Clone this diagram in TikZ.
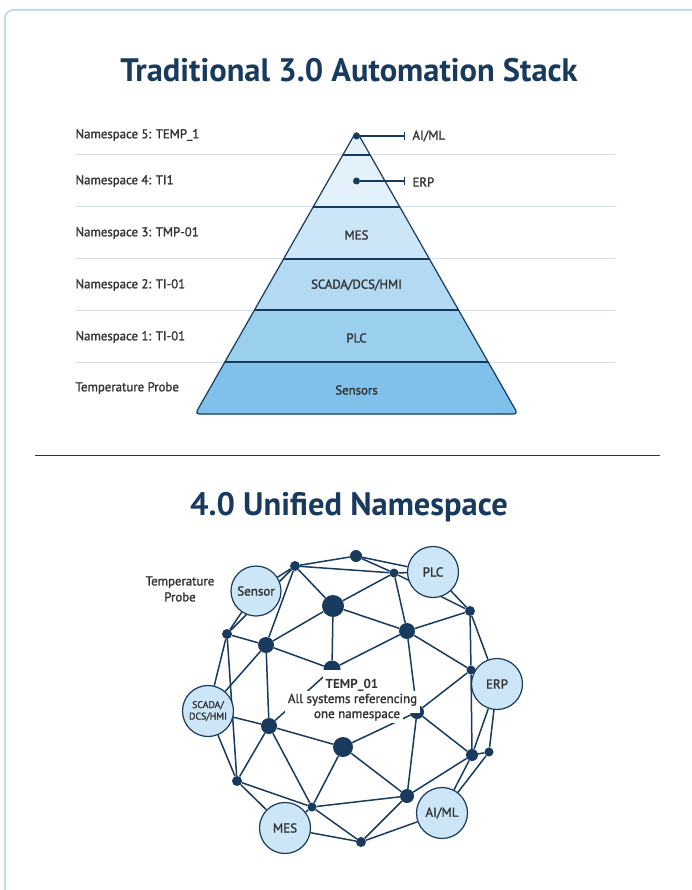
\documentclass[tikz,border=0pt]{standalone}
\usepackage{fontspec}
\setmainfont{PT Sans}
\newfontfamily\med{PT Sans}[FakeBold=1.6]
\usetikzlibrary{arrows.meta,backgrounds}
\definecolor{navy}{HTML}{173A5E}
\definecolor{ink}{HTML}{333333}
\definecolor{card}{HTML}{C6DCEE}
\definecolor{rule}{HTML}{D3DEE8}
\definecolor{la}{HTML}{E3F1FB}
\definecolor{lb}{HTML}{CCE6F7}
\definecolor{lc}{HTML}{B3DAF2}
\definecolor{ld}{HTML}{9BCFEE}
\definecolor{le}{HTML}{7FC1EA}
\tikzset{
	ttl/.style={text=navy,font=\bfseries\fontsize{32.5}{38}\selectfont},
	ns/.style={anchor=west,text=ink,font=\med\fontsize{12.8}{15}\selectfont},
	lay/.style={text=ink,font=\med\fontsize{12.8}{15}\selectfont},
	sys/.style={circle,draw=navy,line width=1.2pt,fill=lb,minimum size=51pt,inner sep=0pt,text=ink,font=\med\fontsize{13}{15}\selectfont},
	hub/.style={circle,fill=navy,inner sep=0pt,minimum size=#1},
	edge/.style={navy,line width=1.5pt},
	txt/.style={anchor=base,fill=white,inner sep=2.5pt,text=ink,font=\med\fontsize{13}{15}\selectfont},
}

\begin{document}
\begin{tikzpicture}[x=1pt,y=-1pt]
	\useasboundingbox (0,0) rectangle (692,890);
	\draw [card, line width=2pt, rounded corners=8pt] (700,10) -- (5,10) -- (5,900);

	% stack
	\node [ttl] (title1) at (349,70) {Traditional 3.0 Automation Stack};

	\foreach \y in {155,207,259,310,362}
		\draw [rule, line width=1pt] (75,\y) -- (615,\y);

	\coordinate (top) at (356.5,131);

	\fill [la] (top) -- (399.8,207) -- (313.2,207) -- cycle;
	\fill [lb] (313.2,207) -- (399.8,207) -- (429.5,259) -- (283.5,259);
	\fill [lc] (283.5,259) -- (429.5,259) -- (458.5,310) -- (254.5,310);
	\fill [ld] (254.5,310) -- (458.5,310) -- (488.2,362) -- (224.8,362);
	\fill [le, rounded corners=4pt] (224.8,362) -- (488.2,362) -- (517.8,414) -- (195.2,414) -- (224.8,362);

	\draw [navy, line width=1.2pt, rounded corners=4pt] (top) -- (517.8,414) -- (195.2,414) -- cycle;
	\draw [navy, line width=1.2pt] (342.8,155) -- (370.2,155);
	\draw [navy, line width=1.2pt] (313.2,207) -- (399.8,207);
	\draw [navy, line width=1.2pt] (283.5,259) -- (429.5,259);
	\draw [navy, line width=1.2pt] (254.5,310) -- (458.5,310);
	\draw [navy, line width=1.2pt] (224.8,362) -- (488.2,362);

	\node [ns] (ns5) at (72,135) {Namespace 5: TEMP\_1};
	\node [ns] (ns4) at (72,181) {Namespace 4: TI1};
	\node [ns] (ns3) at (72,233) {Namespace 3: TMP-01};
	\node [ns] (ns2) at (72,285) {Namespace 2: TI-01};
	\node [ns] (ns1) at (72,337) {Namespace 1: TI-01};
	\node [ns] (ns0) at (72,388) {Temperature Probe};

	\node [lay] (mes) at (356.5,235) {MES};
	\node [lay] (scada) at (356.5,285) {SCADA/DCS/HMI};
	\node [lay] (plc) at (356.5,338) {PLC};
	\node [lay] (sens) at (356.5,390) {Sensors};

	\node [hub=7pt] (d5) at (356.5,136) {};
	\node [hub=7pt] (d4) at (356.5,181) {};
	\coordinate (e5) at (405,136);
	\coordinate (e4) at (405,181);
	\draw [navy, line width=1.2pt, -{Bar[width=8pt]}] (d5) -- (e5);
	\draw [navy, line width=1.2pt, -{Bar[width=8pt]}] (d4) -- (e4);
	\node [ns] (aiml) at (409,136) {AI/ML};
	\node [ns] (erp) at (409,182) {ERP};

	\draw [navy, line width=1pt] (35,455) -- (660,455);

	% unified namespace
	\node [ttl] (title2) at (349,507) {4.0 Unified Namespace};

	\node [sys, minimum size=50pt] (Sensor) at (256,591) {Sensor};
	\node [sys] (PLC) at (433,572) {PLC};
	\node [sys] (ERP) at (497,684) {ERP};
	\node [sys, align=center, font=\med\fontsize{9.8}{11.5}\selectfont] (SCADA) at (208,711) {SCADA/\\DCS/HMI};
	\node [sys] (MES) at (285,828) {MES};
	\node [sys] (AIML) at (442,813) {AI/ML};

	\node [hub=10pt] (n1) at (295,566) {};
	\node [hub=12pt] (n2) at (356,556) {};
	\node [hub=22pt] (n3) at (333,606) {};
	\node [hub=10pt] (n4) at (227,634) {};
	\node [hub=16pt] (n5) at (266,645) {};
	\node [hub=9pt] (n6) at (394,573) {};
	\node [hub=16pt] (n7) at (407,631) {};
	\node [hub=10pt] (n8) at (470,611) {};
	\node [hub=9pt] (n9) at (471,670) {};
	\node [hub=12pt] (n10) at (472,755) {};
	\node [hub=9pt] (n11) at (489,752) {};
	\node [hub=14pt] (n12) at (407,796) {};
	\node [hub=16pt] (n13) at (269,726) {};
	\node [hub=20pt] (n14) at (343,747) {};
	\node [hub=10pt] (n15) at (237,781) {};
	\node [hub=9pt] (n16) at (312,807) {};
	\node [hub=10pt] (n17) at (361,842) {};
	\node [hub=17pt] (h1) at (332,669) {};
	\node [hub=14pt] (h2) at (417,712) {};

	\begin{scope}[on background layer]
		\foreach \a/\b in {Sensor/n1, Sensor/n4, n1/n4, n1/n2, n1/n6, n1/n3, n1/n5,
			n2/n6, n2/PLC, n6/PLC, n6/n3, n6/n7, n6/n8, PLC/n8,
			n3/n5, n3/n7, n3/h1, n4/n5, n4/SCADA, n4/n15,
			n5/SCADA, n5/n13, n5/h1, n7/n8, n7/n9, n7/h1, n7/h2,
			n8/n9, n8/ERP, n9/ERP, n9/n10, n9/h2,
			ERP/n10, ERP/n11, n10/n11, n10/AIML, n11/AIML, n10/n12, n10/h2,
			h2/n12, h2/n14, n12/n14, n12/n16, n12/n17,
			n13/SCADA, n13/n14, n13/n15, n13/n16, n13/h1, n14/n16,
			SCADA/n15, n15/n16, n15/MES, n16/MES, n16/n17, MES/n17, n17/AIML}
			\draw [edge] (\a) -- (\b);
	\end{scope}

	% white boxes under the centre text cut the lines and hubs behind them
	\node [txt, font=\bfseries\fontsize{13}{15}\selectfont, text height=16pt] (t1) at (352,688) {TEMP\_01};
	\node [txt, text depth=7pt] (t2) at (352.5,703) {All systems referencing};
	\node [txt] (t3) at (357,718) {one namespace};

	\node [text=ink, align=center, font=\med\fontsize{12.8}{16}\selectfont] (probe) at (180,589) {Temperature\\Probe};
\end{tikzpicture}
\end{document}
